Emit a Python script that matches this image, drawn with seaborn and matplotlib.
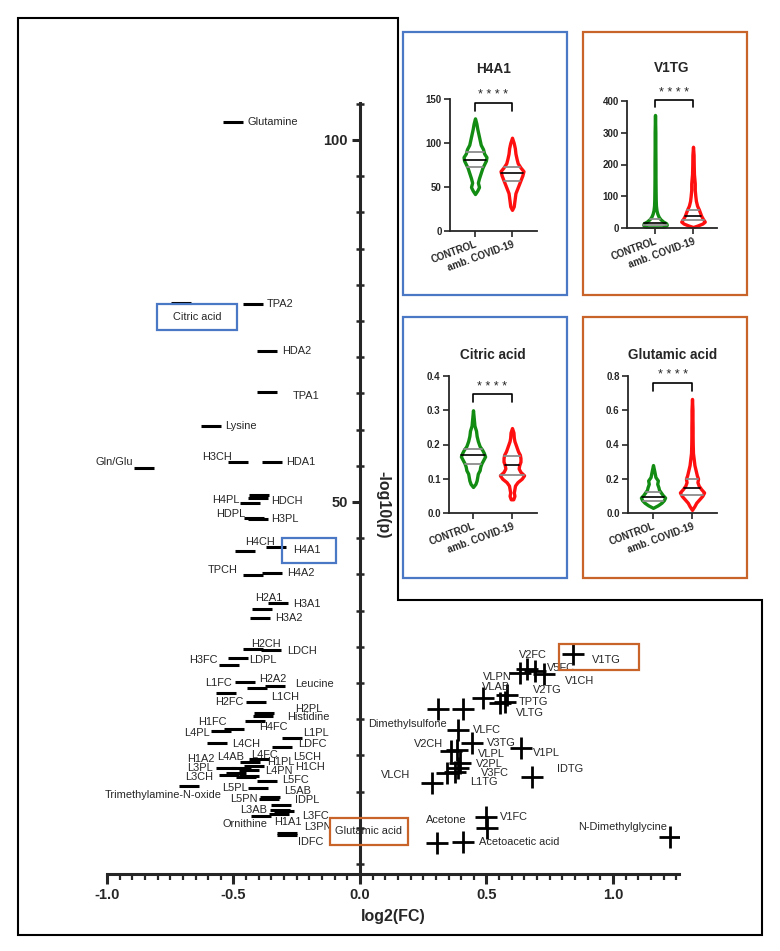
import numpy as np
import pandas as pd
import matplotlib
matplotlib.use("Agg")
import matplotlib.pyplot as plt
from matplotlib.patches import Rectangle, Polygon
from matplotlib.ticker import FormatStrFormatter
import seaborn as sns

W, H = 780, 951

###############################################
# VOLCANO DATA  (log2 fold change, -log10 p)
###############################################
NEG_NAMES = [
    "Glutamine", "TPA2", "Citric acid", "HDA2", "TPA1", "Lysine", "Gln/Glu", "H3CH", "HDA1",
    "H4PL", "HDCH", "", "HDPL", "H3PL", "H4CH", "H4A1", "TPCH", "H4A2", "H2A1", "H3A1", "H3A2",
    "H2CH", "LDCH", "LDPL", "H3FC", "L1FC", "H2A2", "Leucine", "H2FC", "L1CH", "H2PL",
    "Histidine", "H4FC", "H1FC", "L4PL", "L1PL", "L4CH", "LDFC", "L4FC", "L5CH", "H1PL",
    "H1CH", "L4AB", "H1A2", "L3PL", "L4PN", "L3CH", "", "L5FC", "Trimethylamine-N-oxide",
    "L5PL", "L5AB", "L5PN", "IDPL", "L3AB", "Ornithine", "H1A1", "L3FC", "L3PN", "IDFC",
]
NEG_LOG2FC = [
    -0.502, -0.423, -0.708, -0.368, -0.366, -0.589, -0.854, -0.482, -0.346,
    -0.435, -0.399, -0.403, -0.419, -0.403, -0.455, -0.332, -0.423, -0.348, -0.387, -0.324, -0.395,
    -0.423, -0.352, -0.482, -0.516, -0.455, -0.407, -0.336, -0.530, -0.411, -0.379,
    -0.383, -0.415, -0.498, -0.549, -0.269, -0.565, -0.308, -0.435, -0.400, -0.420,
    -0.440, -0.470, -0.530, -0.490, -0.450, -0.518, -0.440, -0.368, -0.676,
    -0.403, -0.356, -0.360, -0.312, -0.316, -0.390, -0.320, -0.300, -0.290, -0.290,
]
NEG_LOGP = [
    102.5, 77.3, 77.5, 70.9, 65.2, 60.5, 54.7, 55.5, 55.5,
    49.9, 51.0, 50.6, 47.8, 47.7, 43.2, 43.8, 39.9, 40.2, 35.2, 36.0, 34.0,
    29.7, 29.6, 28.5, 27.5, 25.1, 24.3, 24.6, 23.6, 22.4, 20.9,
    20.4, 19.8, 18.6, 18.4, 17.4, 16.7, 16.2, 14.1, 14.5, 13.5,
    13.0, 13.3, 13.2, 12.6, 12.0, 12.3, 12.1, 11.5, 10.8,
    10.5, 9.3, 9.0, 8.2, 7.5, 6.6, 6.9, 7.3, 4.3, 4.0,
]

POS_NAMES = [
    "V1TG", "V2FC", "VLPN", "V5FC", "V1CH", "VLAB", "V2TG", "TPTG", "VLTG", "Dimethylsulfone", "",
    "VLFC", "V3TG", "V2CH", "", "V1PL", "VLPL", "V2PL", "V3FC", "L1TG", "VLCH", "IDTG",
    "V1FC", "Acetone", "Glutamic acid", "Acetoacetic acid", "N-Dimethylglycine",
]
POS_LOG2FC = [
    0.842, 0.660, 0.632, 0.692, 0.727, 0.486, 0.581, 0.573, 0.553, 0.308, 0.407,
    0.387, 0.443, 0.360, 0.383, 0.636, 0.395, 0.387, 0.344, 0.375, 0.285, 0.680,
    0.498, 0.502, 0.304, 0.407, 1.225,
]
POS_LOGP = [
    29.0, 26.9, 26.4, 26.7, 26.2, 22.9, 23.3, 22.4, 22.2, 21.4, 21.4,
    18.5, 16.7, 15.6, 15.7, 16.0, 13.9, 13.3, 12.6, 12.7, 11.2, 12.0,
    6.5, 5.0, 2.9, 3.0, 3.7,
]

# label placement (pixel offset from the point, alignment)
LABEL_POS = {
    "Glutamine": (15, 0, "left"), "TPA2": (14, 0, "left"), "Citric acid": (16, -14, "center"),
    "HDA2": (15, 0, "left"), "TPA1": (25, -4, "left"), "Lysine": (14, 0, "left"),
    "Gln/Glu": (-11, 6, "right"), "H3CH": (-6, 5, "right"), "HDA1": (14, 0, "left"),
    "H4PL": (-10, 3, "right"), "HDCH": (12, -6, "left"), "HDPL": (-9, 4, "right"),
    "H3PL": (13, 0, "left"), "H4CH": (0, 9, "left"), "H4A1": (31, -3, "center"),
    "TPCH": (-15, 5, "right"), "H4A2": (15, 0, "left"), "H2A1": (-7, 11, "left"),
    "H3A1": (15, -1, "left"), "H3A2": (15, 0, "left"), "H2CH": (-2, 5, "left"),
    "LDCH": (16, -1, "left"), "LDPL": (11, -2, "left"), "H3FC": (-12, 5, "right"),
    "L1FC": (-13, -1, "right"), "H2A2": (2, 9, "left"), "Leucine": (20, 2, "left"),
    "H2FC": (-11, -9, "left"), "L1CH": (15, 5, "left"), "H2PL": (31, 4, "left"),
    "Histidine": (24, -1, "left"), "H4FC": (4, -6, "left"), "H1FC": (-7, 7, "right"),
    "L4PL": (-11, -2, "right"), "L1PL": (11, 5, "left"), "L4CH": (15, -1, "left"),
    "LDFC": (16, 3, "left"), "L4FC": (1, 7, "left"), "L5CH": (34, 2, "left"),
    "H1PL": (13, 4, "left"), "H1CH": (46, 3, "left"), "L4AB": (-24, 11, "left"),
    "H1A2": (-11, 9, "right"), "L3PL": (-23, 5, "right"), "L4PN": (19, 6, "left"),
    "L3CH": (-16, -2, "right"), "L5FC": (15, 1, "left"), "Trimethylamine-N-oxide": (33, -9, "right"),
    "L5PL": (-10, 0, "right"), "L5AB": (14, 6, "left"), "L5PN": (-11, 0, "right"),
    "IDPL": (14, 5, "left"), "L3AB": (-13, 0, "right"), "Ornithine": (6, -8, "right"),
    "H1A1": (-5, -8, "left"), "L3FC": (18, -5, "left"), "L3PN": (18, 6, "left"),
    "IDFC": (11, -7, "left"),
    "V1TG": (33, -6, "center"), "V2FC": (-8, 14, "left"), "VLPN": (-8, -4, "right"),
    "V5FC": (12, 3, "left"), "V1CH": (21, -7, "left"), "VLAB": (-1, 11, "left"),
    "V2TG": (26, 5, "left"), "TPTG": (14, 0, "left"), "VLTG": (16, -10, "left"),
    "Dimethylsulfone": (9, -15, "right"), "VLFC": (15, 0, "left"), "V3TG": (15, 0, "left"),
    "V2CH": (-8, 7, "right"), "V1PL": (12, -5, "left"), "VLPL": (18, 9, "left"),
    "V2PL": (18, 4, "left"), "V3FC": (34, 0, "left"), "L1TG": (15, -10, "left"),
    "VLCH": (-22, 8, "right"), "IDTG": (25, 8, "left"), "V1FC": (14, 0, "left"),
    "Acetone": (-20, 8, "right"), "Glutamic acid": (-68, 12, "center"),
    "Acetoacetic acid": (16, 0, "left"), "N-Dimethylglycine": (-3, 10, "right"),
}

###############################################
# INSET VIOLIN PROFILES (value, relative half width, quartiles)
###############################################
H4A1_CTRL_VALS = [42, 46, 50, 55, 60, 66, 72, 76, 80, 84, 88, 93, 98, 104, 110, 116, 122, 128]
H4A1_CTRL_WID = [0, 0.2, 0.35, 0.25, 0.35, 0.5, 0.65, 0.8, 0.95, 1.0, 0.8, 0.7, 0.5, 0.4, 0.3, 0.2, 0.12, 0]
H4A1_CTRL_Q = [73, 81, 90]
H4A1_COV_VALS = [24, 28, 33, 38, 43, 48, 53, 58, 63, 68, 72, 77, 82, 88, 94, 100, 106]
H4A1_COV_WID = [0, 0.15, 0.2, 0.25, 0.3, 0.45, 0.6, 0.75, 0.9, 1.0, 0.75, 0.5, 0.4, 0.3, 0.25, 0.15, 0]
H4A1_COV_Q = [57, 66, 73]

V1TG_CTRL_VALS = [2, 5, 10, 15, 20, 28, 36, 45, 55, 70, 90, 120, 160, 200, 250, 300, 356]
V1TG_CTRL_WID = [0.6, 0.9, 1.0, 0.95, 0.7, 0.45, 0.3, 0.2, 0.13, 0.08, 0.06, 0.05, 0.04, 0.04, 0.03, 0.03, 0]
V1TG_CTRL_Q = [10, 16, 28]
V1TG_COV_VALS = [3, 8, 14, 20, 28, 38, 48, 58, 70, 85, 100, 120, 140, 170, 200, 230, 256]
V1TG_COV_WID = [0, 0.4, 0.8, 1.0, 0.85, 0.7, 0.6, 0.5, 0.35, 0.25, 0.2, 0.15, 0.15, 0.08, 0.06, 0.05, 0]
V1TG_COV_Q = [25, 38, 57]

CIT_CTRL_VALS = [0.076, 0.085, 0.095, 0.105, 0.115, 0.125, 0.135, 0.145, 0.155, 0.165, 0.175,
                 0.185, 0.195, 0.21, 0.225, 0.24, 0.255, 0.27, 0.30]
CIT_CTRL_WID = [0, 0.2, 0.3, 0.35, 0.4, 0.55, 0.6, 0.7, 0.85, 1.0, 0.9, 0.75, 0.55, 0.4, 0.3,
                0.25, 0.12, 0.08, 0]
CIT_CTRL_Q = [0.143, 0.169, 0.187]
CIT_COV_VALS = [0.04, 0.05, 0.06, 0.07, 0.08, 0.09, 0.10, 0.11, 0.12, 0.13, 0.14, 0.15, 0.16,
                0.17, 0.18, 0.19, 0.20, 0.21, 0.22, 0.235, 0.248]
CIT_COV_WID = [0.1, 0.2, 0.15, 0.2, 0.25, 0.45, 0.8, 1.0, 0.7, 0.55, 0.6, 0.7, 0.7, 0.65, 0.5,
               0.4, 0.3, 0.2, 0.15, 0.12, 0]
CIT_COV_Q = [0.111, 0.140, 0.166]

GLU_CTRL_VALS = [0.03, 0.045, 0.06, 0.075, 0.09, 0.105, 0.12, 0.135, 0.15, 0.17, 0.19, 0.21, 0.24, 0.28]
GLU_CTRL_WID = [0, 0.4, 0.7, 0.9, 1.0, 0.8, 0.65, 0.5, 0.45, 0.35, 0.4, 0.2, 0.12, 0]
GLU_CTRL_Q = [0.07, 0.095, 0.123]
GLU_COV_VALS = [0.018, 0.04, 0.06, 0.08, 0.1, 0.12, 0.14, 0.16, 0.18, 0.2, 0.22, 0.25, 0.28,
                0.31, 0.35, 0.4, 0.45, 0.5, 0.55, 0.6, 0.666]
GLU_COV_WID = [0, 0.2, 0.35, 0.6, 0.85, 1.0, 0.75, 0.55, 0.45, 0.5, 0.4, 0.3, 0.2, 0.15, 0.08,
               0.06, 0.05, 0.05, 0.04, 0.04, 0]
GLU_COV_Q = [0.105, 0.146, 0.200]

GROUPS = ["CONTROL", "amb. COVID-19"]

BLUE = "#4a78c4"
ORANGE = "#c8642a"
GREEN = "#138c13"
RED = "#ff1010"

sns.set_style("ticks")
plt.rcParams["font.family"] = ["Liberation Sans", "DejaVu Sans"]
plt.rcParams["axes.unicode_minus"] = False


def px_rect(x0, y0, x1, y1):
    return [x0 / W, 1 - y1 / H, (x1 - x0) / W, (y1 - y0) / H]


fig = plt.figure(figsize=(W / 100, H / 100), dpi=100)

###############################################
# MAIN VOLCANO PLOT
###############################################
ax = fig.add_axes(px_rect(107, 103, 679, 874))
ax.set_xlim(-1.0, 1.261)
ax.set_ylim(-1.38, 105.1)

neg = pd.DataFrame({"name": NEG_NAMES, "log2fc": NEG_LOG2FC, "logp": NEG_LOGP})
pos = pd.DataFrame({"name": POS_NAMES, "log2fc": POS_LOG2FC, "logp": POS_LOGP})

sns.scatterplot(data=neg, x="log2fc", y="logp", marker="_", s=215, linewidth=2.2,
                color="black", ax=ax, legend=False, zorder=3)
sns.scatterplot(data=pos, x="log2fc", y="logp", marker="+", s=230, linewidth=2.0,
                color="black", ax=ax, legend=False, zorder=3)

for df in (neg, pos):
    for _, r in df.iterrows():
        if not r["name"]:
            continue
        dx, dy, ha = LABEL_POS[r["name"]]
        ax.annotate(r["name"], (r["log2fc"], r["logp"]), xytext=(dx, dy),
                    textcoords="offset pixels", ha=ha, va="center", fontsize=7.9, zorder=4)

ax.spines["left"].set_position(("data", 0))
ax.spines["top"].set_visible(False)
ax.spines["right"].set_visible(False)
for s in ("left", "bottom"):
    ax.spines[s].set_linewidth(2.2)

ax.set_yticks([50, 100])
ax.set_yticks(np.arange(0, 106, 5), minor=True)
ax.set_xticks([-1.0, -0.5, 0.0, 0.5, 1.0])
ax.set_xticks(np.arange(-1.0, 1.26, 0.05), minor=True)
ax.xaxis.set_major_formatter(FormatStrFormatter("%.1f"))
ax.tick_params(axis="y", which="major", direction="out", length=6, width=2.2, labelsize=10.5, pad=3)
ax.tick_params(axis="y", which="minor", direction="inout", length=6, width=1.8)
ax.tick_params(axis="x", which="major", direction="out", length=7, width=2.2, labelsize=10.5, pad=3)
ax.tick_params(axis="x", which="minor", direction="out", length=4, width=1.6)
for lbl in ax.get_xticklabels() + ax.get_yticklabels():
    lbl.set_fontweight("bold")
ax.set_xlabel("log2(FC)", fontsize=11.5, fontweight="bold", labelpad=5)
ax.set_ylabel("")
fig.text(383 / W, 1 - 505 / H, "-log10(p)", rotation=270, ha="center", va="center",
         fontsize=11.5, fontweight="bold")

# highlighted metabolites
for (x0, y0, bw, bh), col in [((157, 304, 80, 26), BLUE), ((282, 538, 54, 25), BLUE),
                              ((559, 644, 80, 26), ORANGE), ((330, 818, 78, 27), ORANGE)]:
    fig.add_artist(Rectangle((x0 / W, 1 - (y0 + bh) / H), bw / W, bh / H, transform=fig.transFigure,
                             fill=False, edgecolor=col, linewidth=1.6, zorder=5))

# outer L-shaped frame
frame = [(18, 18), (398, 18), (398, 600), (762, 600), (762, 935), (18, 935)]
fig.add_artist(Polygon([(x / W, 1 - y / H) for x, y in frame], closed=True, fill=False,
                       edgecolor="black", linewidth=1.5, transform=fig.transFigure))

###############################################
# INSET VIOLINS
###############################################
INSETS = [
    dict(title="H4A1", rect=(450, 99, 537, 231), xs=(475, 512), ylim=(0, 150),
         yticks=[0, 50, 100, 150], fmt="%d", box=(403, 32, 567, 295), col=BLUE,
         ctrl=(H4A1_CTRL_VALS, H4A1_CTRL_WID, H4A1_CTRL_Q), cov=(H4A1_COV_VALS, H4A1_COV_WID, H4A1_COV_Q),
         br=(145.5, 136.0, 154.0), pad=19),
    dict(title="V1TG", rect=(627, 101, 717, 228), xs=(655, 693), ylim=(0, 400),
         yticks=[0, 100, 200, 300, 400], fmt="%d", box=(583, 32, 747, 295), col=ORANGE,
         ctrl=(V1TG_CTRL_VALS, V1TG_CTRL_WID, V1TG_CTRL_Q), cov=(V1TG_COV_VALS, V1TG_COV_WID, V1TG_COV_Q),
         br=(403, 381, 425), pad=21),
    dict(title="Citric acid", rect=(449, 376, 537, 513), xs=(473, 512), ylim=(0, 0.4),
         yticks=[0.0, 0.1, 0.2, 0.3, 0.4], fmt="%.1f", box=(403, 317, 567, 578), col=BLUE,
         ctrl=(CIT_CTRL_VALS, CIT_CTRL_WID, CIT_CTRL_Q), cov=(CIT_COV_VALS, CIT_COV_WID, CIT_COV_Q),
         br=(0.347, 0.324, 0.368), pad=12),
    dict(title="Glutamic acid", rect=(628, 376, 717, 513), xs=(653, 692), ylim=(0, 0.8),
         yticks=[0.0, 0.2, 0.4, 0.6, 0.8], fmt="%.1f", box=(583, 317, 747, 578), col=ORANGE,
         ctrl=(GLU_CTRL_VALS, GLU_CTRL_WID, GLU_CTRL_Q), cov=(GLU_COV_VALS, GLU_COV_WID, GLU_COV_Q),
         br=(0.759, 0.712, 0.804), pad=12),
]


def draw_violin(iax, xpos, prof, color, half=0.31):
    vals, wid, quart = prof
    v = np.array(vals)
    w = np.array(wid) * half
    iax.fill_betweenx(v, xpos - w, xpos + w, facecolor="white", edgecolor=color,
                      linewidth=2.4, zorder=2)
    for q, qc, lw in zip(quart, ["#8c8c8c", "black", "#8c8c8c"], [1.3, 1.2, 1.3]):
        wq = np.interp(q, v, w)
        iax.plot([xpos - wq, xpos + wq], [q, q], color=qc, linewidth=lw, zorder=3)


for cfg in INSETS:
    x0, y0, x1, y1 = cfg["rect"]
    iax = fig.add_axes(px_rect(x0, y0, x1, y1))
    step = cfg["xs"][1] - cfg["xs"][0]
    iax.set_xlim((x0 - cfg["xs"][0]) / step, (x1 - cfg["xs"][0]) / step)
    iax.set_ylim(*cfg["ylim"])
    draw_violin(iax, 0, cfg["ctrl"], GREEN)
    draw_violin(iax, 1, cfg["cov"], RED)
    iax.set_yticks(cfg["yticks"])
    iax.yaxis.set_major_formatter(FormatStrFormatter(cfg["fmt"]))
    iax.set_xticks([0, 1])
    iax.set_xticklabels(GROUPS, rotation=20, ha="right", rotation_mode="anchor")
    iax.tick_params(length=4, width=1.2, labelsize=7, pad=2)
    for lbl in iax.get_xticklabels() + iax.get_yticklabels():
        lbl.set_fontweight("bold")
    for s in ("top", "right"):
        iax.spines[s].set_visible(False)
    for s in ("left", "bottom"):
        iax.spines[s].set_linewidth(1.3)
    iax.set_title(cfg["title"], fontsize=9.8, fontweight="bold", pad=cfg["pad"])
    top, leg, star = cfg["br"]
    iax.plot([0, 0, 1, 1], [leg, top, top, leg], color="black", linewidth=1.2, clip_on=False)
    iax.text(0.5, star, "* * * *", ha="center", va="center", fontsize=9, clip_on=False)
    bx0, by0, bx1, by1 = cfg["box"]
    fig.add_artist(Rectangle((bx0 / W, 1 - by1 / H), (bx1 - bx0) / W, (by1 - by0) / H,
                             transform=fig.transFigure, fill=False, edgecolor=cfg["col"], linewidth=1.6))

fig.savefig("out.png", dpi=100)
